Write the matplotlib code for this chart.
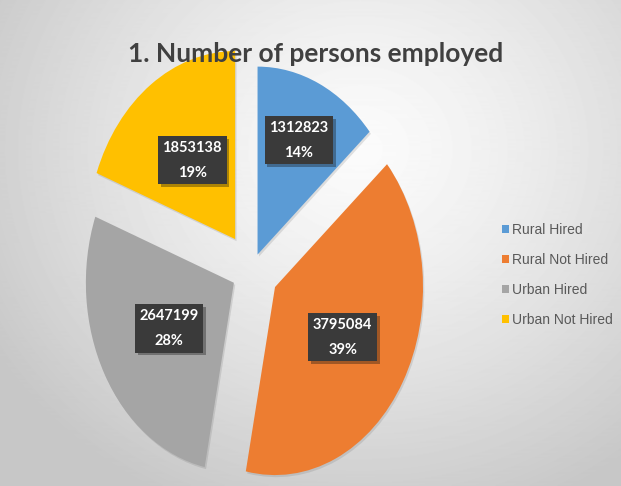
import numpy as np
import matplotlib
matplotlib.use("Agg")
import matplotlib.pyplot as plt
import matplotlib.patheffects as pe
from matplotlib.patches import Patch

categories = ["Rural Hired", "Rural Not Hired", "Urban Hired", "Urban Not Hired"]
values = [1312823, 3795084, 2647199, 1853138]
colors = ["#5B9BD5", "#ED7D31", "#A5A5A5", "#FFC000"]
explode = [0.09, 0.18, 0.14, 0.20]
label_dist = [0.67, 0.53, 0.50, 0.51]  # distance of the label boxes from each slice centre

cal = ["Lato", "DejaVu Sans"]

fig = plt.figure(figsize=(6.21, 4.86), dpi=100)

# soft radial background like the office chart style
bg = fig.add_axes([0, 0, 1, 1])
yy, xx = np.mgrid[0:486, 0:621]
r = np.hypot((xx - 360) / 420.0, (yy - 150) / 380.0)
shade = np.clip(0.985 - 0.2 * r ** 1.3, 0.78, 1.0)
bg.imshow(shade, cmap="gray", vmin=0, vmax=1, extent=[0, 1, 0, 1], aspect="auto", zorder=0)
bg.set_xlim(0, 1)
bg.set_ylim(0, 1)
bg.axis("off")

# pie axes: 1 unit = 148 px across, 188 px up, centre at (252, 270) px from top-left
lx, ly = 1.4, 1.25
w_px, h_px = 2 * lx * 148, 2 * ly * 188
ax = fig.add_axes([(252 - w_px / 2) / 621, (486 - 270 - h_px / 2) / 486, w_px / 621, h_px / 486])
wedges, _ = ax.pie(values, colors=colors, startangle=90, counterclock=False,
                   explode=explode, wedgeprops=dict(linewidth=0))
ax.set_aspect("auto")
ax.set_xlim(-lx, lx)
ax.set_ylim(-ly, ly)
ax.axis("off")
for w in wedges:
    w.set_path_effects([pe.SimplePatchShadow(offset=(1, -1.5), shadow_rgbFace="#707070", alpha=0.2), pe.Normal()])

total = sum(values)
for w, v, d in zip(wedges, values, label_dist):
    mid = np.deg2rad((w.theta1 + w.theta2) / 2)
    cx, cy = w.center
    t = ax.text(cx + d * np.cos(mid), cy + d * np.sin(mid), f"{v}\n{round(v / total * 100)}%",
                ha="center", va="center", color="white", fontsize=10.5, weight="bold",
                family=cal, linespacing=2.0,
                bbox=dict(boxstyle="square,pad=0.32", fc="#3A3A3A", ec="none"))
    t.get_bbox_patch().set_path_effects([pe.SimplePatchShadow(offset=(2, -2), alpha=0.35), pe.Normal()])

fig.text(0.509, 1 - 62 / 486, "1. Number of persons employed", ha="center", va="baseline",
         fontsize=19, weight="bold", color="#404040", family=cal)

handles = [Patch(facecolor=c, edgecolor="none") for c in colors]
fig.legend(handles, categories, loc="center left", bbox_to_anchor=(0.808, 0.434),
           frameon=False, labelcolor="#595959", handlelength=0.5, handleheight=0.5,
           handletextpad=0.25, labelspacing=1.15, borderpad=0, borderaxespad=0,
           prop=dict(family=["Liberation Sans", "DejaVu Sans"], size=10))

fig.savefig("out.png", dpi=100)
